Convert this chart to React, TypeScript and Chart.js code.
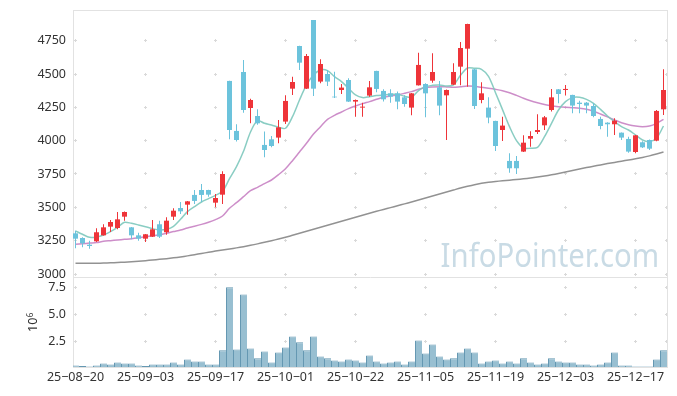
import React, { useEffect, useRef } from 'react';
import { Chart, registerables } from 'chart.js';

Chart.register(...registerables);

// ---- data ----
const openP = [3305, 3270, 3220, 3245, 3290, 3355, 3345, 3430, 3350, 3290,
  3265, 3280, 3373, 3313, 3430, 3495, 3520, 3593, 3630, 3630,
  3535, 3595, 4448, 4073, 4515, 4245, 4185, 3968, 4010, 4023,
  4143, 4390, 4710, 4390, 4905, 4443, 4500, 4330, 4380, 4455,
  4293, 4248, 4338, 4523, 4373, 4355, 4355, 4325, 4248, 4415,
  4425, 4450, 4400, 4340, 4420, 4555, 4690, 4535, 4305, 4248,
  4148, 4080, 3848, 3848, 3918, 4015, 4065, 4115, 4230, 4385,
  4380, 4343, 4285, 4285, 4260, 4163, 4135, 4123, 4060, 4013,
  3915, 3988, 4005, 4000, 4235];
const highP = [3325, 3275, 3250, 3343, 3373, 3405, 3465, 3468, 3352, 3310,
  3300, 3405, 3400, 3425, 3493, 3540, 3548, 3630, 3675, 3632,
  3600, 3770, 4450, 4123, 4605, 4315, 4235, 4068, 4035, 4155,
  4340, 4480, 4712, 4650, 4905, 4610, 4530, 4517, 4425, 4468,
  4308, 4285, 4448, 4525, 4385, 4385, 4368, 4340, 4358, 4660,
  4430, 4655, 4448, 4383, 4580, 4740, 4877, 4538, 4438, 4325,
  4150, 4180, 3905, 3885, 4040, 4070, 4198, 4185, 4388, 4388,
  4418, 4345, 4300, 4290, 4280, 4180, 4138, 4168, 4062, 4030,
  4043, 3995, 4008, 4230, 4535];
const lowP = [3193, 3200, 3190, 3240, 3288, 3315, 3335, 3400, 3260, 3250,
  3240, 3278, 3270, 3295, 3405, 3450, 3445, 3525, 3540, 3580,
  3500, 3525, 4010, 3993, 4210, 4130, 4120, 3875, 3950, 3980,
  4125, 4343, 4530, 4388, 4335, 4430, 4410, 4320, 4350, 4290,
  4180, 4180, 4330, 4363, 4293, 4285, 4235, 4255, 4190, 4413,
  4175, 4435, 4190, 4005, 4418, 4415, 4405, 4238, 4280, 4130,
  3923, 3998, 3760, 3750, 3915, 3955, 4050, 4080, 4218, 4280,
  4338, 4205, 4205, 4205, 4175, 4085, 4030, 4043, 4005, 3910,
  3905, 3945, 3930, 3995, 4193];
const closeP = [3265, 3230, 3210, 3313, 3350, 3390, 3410, 3465, 3290, 3265,
  3298, 3335, 3280, 3400, 3475, 3470, 3545, 3548, 3593, 3595,
  3570, 3750, 4080, 4005, 4230, 4305, 4130, 3930, 3960, 4100,
  4298, 4440, 4585, 4635, 4390, 4575, 4443, 4325, 4398, 4293,
  4305, 4255, 4400, 4388, 4310, 4330, 4293, 4275, 4355, 4568,
  4355, 4515, 4263, 4380, 4515, 4695, 4875, 4260, 4355, 4173,
  3960, 4113, 3793, 3793, 3985, 4035, 4080, 4175, 4325, 4350,
  4388, 4263, 4275, 4263, 4185, 4110, 4123, 4150, 4023, 3918,
  4040, 3950, 3940, 4223, 4380];
const maShort = [3323, 3298, 3275, 3278, 3293, 3318, 3350, 3388, 3380, 3368,
  3355, 3340, 3330, 3335, 3358, 3410, 3468, 3505, 3540, 3565,
  3590, 3620, 3715, 3805, 3920, 4065, 4150, 4130, 4118, 4100,
  4093, 4180, 4305, 4418, 4493, 4530, 4525, 4480, 4443, 4393,
  4343, 4323, 4330, 4338, 4343, 4348, 4348, 4333, 4325, 4375,
  4405, 4415, 4418, 4410, 4418, 4490, 4545, 4543, 4535, 4482,
  4360, 4233, 4105, 4000, 3945, 3943, 3950, 4030, 4130, 4230,
  4293, 4323, 4325, 4310, 4280, 4235, 4185, 4143, 4105, 4080,
  4043, 4005, 3993, 4018, 4110];
const maMid = [3223, 3227, 3232, 3236, 3245, 3250, 3255, 3260, 3265, 3272,
  3280, 3287, 3295, 3305, 3318, 3330, 3345, 3358, 3372, 3388,
  3408, 3435, 3493, 3535, 3580, 3625, 3650, 3678, 3705, 3745,
  3790, 3850, 3915, 3980, 4050, 4105, 4160, 4190, 4215, 4240,
  4260, 4278, 4293, 4310, 4325, 4335, 4343, 4355, 4368, 4385,
  4398, 4403, 4405, 4403, 4400, 4405, 4410, 4408, 4400, 4393,
  4385, 4375, 4360, 4340, 4318, 4300, 4285, 4272, 4262, 4255,
  4250, 4247, 4243, 4235, 4220, 4200, 4178, 4155, 4135, 4120,
  4110, 4105, 4110, 4130, 4160];
const maLong = [3080, 3080, 3080, 3081, 3082, 3084, 3086, 3089, 3092, 3096,
  3100, 3105, 3110, 3115, 3121, 3128, 3136, 3145, 3154, 3163,
  3172, 3180, 3188, 3196, 3205, 3215, 3226, 3238, 3250, 3262,
  3275, 3290, 3305, 3320, 3335, 3350, 3365, 3380, 3395, 3410,
  3425, 3440, 3455, 3470, 3484, 3498, 3512, 3526, 3540, 3555,
  3570, 3585, 3600, 3615, 3630, 3645, 3658, 3670, 3680, 3688,
  3694, 3699, 3704, 3709, 3714, 3720, 3727, 3735, 3744, 3754,
  3765, 3776, 3787, 3798, 3808, 3818, 3828, 3837, 3846, 3855,
  3864, 3874, 3886, 3900, 3915];
const volumeM = [0.25, 0.19, 0.15, 0.25, 0.43, 0.34, 0.52, 0.43, 0.43, 0.25,
  0.19, 0.34, 0.34, 0.34, 0.52, 0.34, 0.80, 0.62, 0.62, 0.34,
  0.34, 1.64, 7.47, 1.73, 6.82, 1.82, 0.90, 1.54, 0.52, 1.45,
  1.91, 2.93, 2.38, 1.64, 2.93, 1.08, 0.90, 0.71, 0.62, 0.80,
  0.71, 0.52, 1.17, 0.62, 0.43, 0.52, 0.62, 0.34, 0.62, 2.56,
  1.36, 2.19, 1.08, 0.80, 0.90, 1.45, 1.82, 1.45, 0.43, 0.62,
  0.71, 0.43, 0.62, 0.43, 0.90, 0.52, 0.34, 0.43, 0.90, 0.62,
  0.52, 0.52, 0.34, 0.34, 0.25, 0.34, 0.52, 1.45, 0.25, 0.25,
  0.15, 0.15, 0.15, 0.80, 1.64];
const tickIndex = [0, 10, 20, 30, 40, 50, 60, 70, 80];
const tickLabels = ['25-08-20', '25-09-03', '25-09-17', '25-10-01', '25-10-22', '25-11-05', '25-11-19', '25-12-03', '25-12-17'];
const priceTicks = [3000, 3250, 3500, 3750, 4000, 4250, 4500, 4750];
const volTicks = [2.5, 5.0, 7.5];
const WATERMARK = 'InfoPointer.com';

const RED = '#ee3439';
const CYAN = '#6cc3dc';
const FONT = { family: '"Noto Sans", sans-serif', size: 12.5 };
const TEXT = '#333333';

const zeroPad = (s: any) => {
  s.paddingTop = 0;
  s.paddingBottom = 0;
  s.paddingLeft = 0;
  s.paddingRight = 0;
};

const decorPlugin = {
  id: 'decor',
  beforeDatasetsDraw(chart: any) {
    const { ctx, chartArea } = chart;
    const xs = chart.scales.x;
    const ys = chart.scales.y;
    const yv = chart.scales.yv;
    // watermark
    ctx.save();
    ctx.font = '32px "Noto Sans"';
    const m = ctx.measureText(WATERMARK);
    const inkW = m.actualBoundingBoxRight + m.actualBoundingBoxLeft;
    ctx.translate(441.5, 267);
    ctx.scale(216 / inkW, 1);
    ctx.fillStyle = '#c9dbe5';
    ctx.textBaseline = 'alphabetic';
    ctx.fillText(WATERMARK, m.actualBoundingBoxLeft, 0);
    ctx.restore();
    // grid crosses
    ctx.save();
    ctx.fillStyle = '#d9d9d9';
    const xPix = tickIndex.map((v) => Math.floor(xs.getPixelForValue(v)));
    xPix.push(Math.floor(chartArea.right) - 1);
    const yPix = [
      ...priceTicks.map((v) => Math.floor(ys.getPixelForValue(v))),
      ...volTicks.map((v) => Math.floor(yv.getPixelForValue(v))),
    ];
    for (const px of xPix) {
      for (const py of yPix) {
        ctx.fillRect(px - 1, py, 3, 1);
        ctx.fillRect(px, py - 1, 1, 3);
      }
    }
    // panel borders
    ctx.strokeStyle = '#e2e2e2';
    ctx.lineWidth = 1;
    ctx.strokeRect(chartArea.left + 0.5, chartArea.top + 0.5, chartArea.right - chartArea.left, chartArea.bottom - chartArea.top);
    ctx.beginPath();
    const my = Math.round(ys.bottom) + 0.5;
    ctx.moveTo(chartArea.left, my);
    ctx.lineTo(chartArea.right + 1, my);
    ctx.stroke();
    ctx.restore();
  },
  afterDraw(chart: any) {
    const { ctx } = chart;
    ctx.save();
    ctx.translate(37, 332);
    ctx.rotate(-Math.PI / 2);
    ctx.fillStyle = TEXT;
    ctx.textBaseline = 'alphabetic';
    ctx.font = '12.5px "Noto Sans"';
    ctx.fillText('10', 0, 0);
    const w = ctx.measureText('10').width;
    ctx.font = '8px "Noto Sans"';
    ctx.fillText('6', w + 0.5, -4.5);
    ctx.restore();
  },
};

export default function App() {
  const ref = useRef<HTMLCanvasElement>(null);
  useEffect(() => {
    const colors = closeP.map((c, i) => (c >= openP[i] ? RED : CYAN));
    const xMin = -2.5 / 7;
    const chart = new Chart(ref.current as HTMLCanvasElement, {
      type: 'bar',
      data: {
        datasets: [
          {
            type: 'bar',
            label: 'body',
            data: openP.map((o, i) => ({ x: i, y: [o, closeP[i]] })) as any,
            backgroundColor: colors,
            borderWidth: 0,
            barThickness: 5,
            grouped: false,
            inflateAmount: 0,
            order: 0,
            xAxisID: 'x',
            yAxisID: 'y',
          } as any,
          {
            type: 'bar',
            label: 'wick',
            data: lowP.map((l, i) => ({ x: i, y: [l, highP[i]] })) as any,
            backgroundColor: colors,
            borderWidth: 0,
            barThickness: 1,
            grouped: false,
            inflateAmount: 0,
            order: 1,
            xAxisID: 'x',
            yAxisID: 'y',
          } as any,
          {
            type: 'line',
            label: 'ma short',
            data: maShort.map((v, i) => ({ x: i, y: v })),
            borderColor: 'rgba(125,200,188,0.9)',
            borderWidth: 1.5,
            pointRadius: 0,
            tension: 0.3,
            order: 2,
            xAxisID: 'x',
            yAxisID: 'y',
          } as any,
          {
            type: 'line',
            label: 'ma mid',
            data: maMid.map((v, i) => ({ x: i, y: v })),
            borderColor: 'rgba(200,130,195,0.9)',
            borderWidth: 1.5,
            pointRadius: 0,
            tension: 0.3,
            order: 3,
            xAxisID: 'x',
            yAxisID: 'y',
          } as any,
          {
            type: 'line',
            label: 'ma long',
            data: maLong.map((v, i) => ({ x: i, y: v })),
            borderColor: 'rgba(140,140,140,0.95)',
            borderWidth: 1.5,
            pointRadius: 0,
            tension: 0.3,
            order: 4,
            xAxisID: 'x',
            yAxisID: 'y',
          } as any,
          {
            type: 'bar',
            label: 'volume',
            data: volumeM.map((v, i) => ({ x: i, y: v })),
            backgroundColor: '#98bfd1',
            borderColor: '#6598b2',
            borderWidth: { left: 1, top: 1, right: 0, bottom: 0 },
            borderSkipped: false,
            barThickness: 7,
            grouped: false,
            inflateAmount: 0,
            order: 5,
            xAxisID: 'x',
            yAxisID: 'yv',
          } as any,
        ],
      },
      options: {
        animation: false,
        responsive: false,
        maintainAspectRatio: false,
        devicePixelRatio: 1,
        layout: { autoPadding: false, padding: { left: 0, top: 10, right: 10, bottom: 0 } },
        plugins: { legend: { display: false }, tooltip: { enabled: false } },
        scales: {
          x: {
            type: 'linear',
            position: 'bottom',
            offset: false,
            min: xMin,
            max: xMin + 594 / 7,
            grid: { display: false, drawTicks: false, tickLength: 0, offset: false },
            border: { display: false },
            afterBuildTicks: (s: any) => {
              s.ticks = tickIndex.map((v) => ({ value: v }));
            },
            afterFit: (s: any) => {
              s.height = 29;
              zeroPad(s);
            },
            ticks: {
              autoSkip: false,
              maxRotation: 0,
              padding: 3,
              font: FONT,
              color: TEXT,
              callback: (_v: any, idx: number) => tickLabels[idx].replace(/-/g, '\u2212'),
            },
          },
          y: {
            type: 'linear',
            position: 'left',
            stack: 'panels',
            stackWeight: 267,
            weight: 1,
            offset: false,
            min: 2977.5,
            max: 4980,
            grid: { display: false, drawTicks: false, tickLength: 0 },
            border: { display: false },
            afterBuildTicks: (s: any) => {
              s.ticks = priceTicks.map((v) => ({ value: v }));
            },
            afterFit: (s: any) => {
              s.width = 73;
              zeroPad(s);
            },
            ticks: { padding: 7, font: FONT, color: TEXT, callback: (v: any) => String(v) },
          },
          yv: {
            type: 'linear',
            position: 'left',
            stack: 'panels',
            stackWeight: 90,
            weight: 0,
            offset: false,
            min: 0.1,
            max: 8.43,
            grid: { display: false, drawTicks: false, tickLength: 0 },
            border: { display: false },
            afterBuildTicks: (s: any) => {
              s.ticks = volTicks.map((v) => ({ value: v }));
            },
            afterFit: (s: any) => {
              s.width = 73;
              zeroPad(s);
            },
            ticks: { padding: 7, font: FONT, color: TEXT, callback: (v: any) => Number(v).toFixed(1) },
          },
        },
      } as any,
      plugins: [decorPlugin],
    });
    return () => chart.destroy();
  }, []);
  return (
    <div style={{ position: 'absolute', left: 0, top: 0, width: 677, height: 396, background: '#fff' }}>
      <canvas ref={ref} width={677} height={396} style={{ display: 'block', width: 677, height: 396 }} />
    </div>
  );
}
